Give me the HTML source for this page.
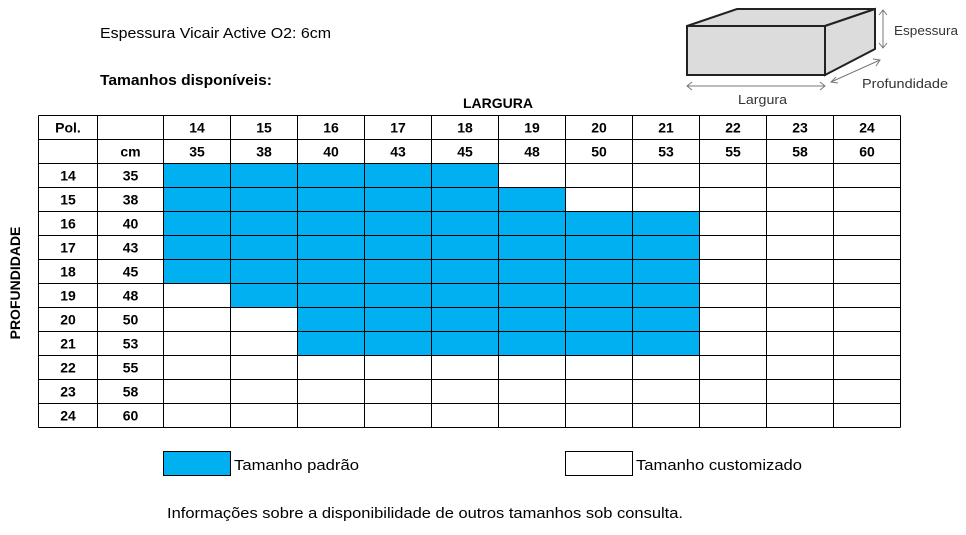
<!DOCTYPE html>
<html><head><meta charset="utf-8"><style>
body{margin:0;background:#fff;}
svg text{font-family:"Liberation Sans",sans-serif;}
</style></head><body>
<svg id="chart" width="966" height="530" xmlns="http://www.w3.org/2000/svg">
<text x="100" y="38" font-size="14.5" textLength="231" lengthAdjust="spacingAndGlyphs">Espessura Vicair Active O2: 6cm</text>
<text x="100" y="85" font-size="14.5" font-weight="bold" textLength="172" lengthAdjust="spacingAndGlyphs">Tamanhos disponíveis:</text>
<g stroke="#222" stroke-width="2" fill="#dcdcdc">
<polygon points="687,26 737,9 875,9 825,26"/>
<polygon points="825,26 875,9 875,49 825,75"/>
<rect x="687" y="26" width="138" height="49"/>
</g>
<g stroke="#777" stroke-width="1" fill="none">
<line x1="687" y1="86" x2="825" y2="86"/><polyline points="692,82 687,86 692,90"/><polyline points="820,82 825,86 820,90"/>
<line x1="883" y1="10" x2="883" y2="48"/><polyline points="879,15 883,10 887,15"/><polyline points="879,43 883,48 887,43"/>
<line x1="831" y1="82" x2="880" y2="60"/><polyline points="836,77 831,82 838,83"/><polyline points="873,59 880,60 876,66"/>
</g>
<text x="894" y="35" font-size="13" fill="#333" textLength="64" lengthAdjust="spacingAndGlyphs">Espessura</text>
<text x="862" y="88" font-size="13" fill="#333" textLength="86" lengthAdjust="spacingAndGlyphs">Profundidade</text>
<text x="738" y="104" font-size="13" fill="#333" textLength="49" lengthAdjust="spacingAndGlyphs">Largura</text>
<text x="498" y="108" font-size="14" font-weight="bold" text-anchor="middle">LARGURA</text>
<text x="0" y="0" font-size="14" font-weight="bold" text-anchor="middle" transform="translate(20,283) rotate(-90)">PROFUNDIDADE</text>
<g id="cells"></g>
<g id="grid"></g>
<g id="labels"></g>
<rect x="163.5" y="451.5" width="67" height="24" fill="#00B0F0" stroke="#000"/>
<text x="234" y="470" font-size="14.5" textLength="125" lengthAdjust="spacingAndGlyphs">Tamanho padrão</text>
<rect x="565.5" y="451.5" width="67" height="24" fill="#fff" stroke="#000"/>
<text x="636" y="470" font-size="14.5" textLength="166" lengthAdjust="spacingAndGlyphs">Tamanho customizado</text>
<text x="167" y="518" font-size="14.5" textLength="516" lengthAdjust="spacingAndGlyphs">Informações sobre a disponibilidade de outros tamanhos sob consulta.</text>
</svg>
<script>
const widthInches=[14,15,16,17,18,19,20,21,22,23,24];
const widthCm=[35,38,40,43,45,48,50,53,55,58,60];
const depthInches=[14,15,16,17,18,19,20,21,22,23,24];
const depthCm=[35,38,40,43,45,48,50,53,55,58,60];
// standard range per depth row: [firstWidthInch, lastWidthInch] or null
const standardFrom=[14,14,14,14,14,15,16,16,null,null,null];
const standardTo=[18,19,21,21,21,21,21,21,null,null,null];

const NS="http://www.w3.org/2000/svg";
const X0=38.5, colW=[59,66], dataX=163.5, cw=67, Y0=115.5, rh=24;
const xCol=i=>dataX+i*cw;
const yRow=j=>Y0+(j+2)*rh;
function mk(tag,attrs,parent){const e=document.createElementNS(NS,tag);for(const k in attrs)e.setAttribute(k,attrs[k]);parent.appendChild(e);return e;}
const cells=document.getElementById('cells'),grid=document.getElementById('grid'),labels=document.getElementById('labels');
depthInches.forEach((d,j)=>{
  if(standardFrom[j]==null)return;
  const a=widthInches.indexOf(standardFrom[j]),b=widthInches.indexOf(standardTo[j]);
  const r=mk('rect',{x:xCol(a),y:yRow(j),width:(b-a+1)*cw,height:rh,fill:'#00B0F0'},cells);
  
  
});
const right=xCol(widthInches.length), bottom=yRow(depthInches.length);
const xs=[X0,X0+colW[0],dataX];
for(let i=1;i<=widthInches.length;i++)xs.push(xCol(i));
xs.forEach(x=>{const l=mk('line',{x1:x,y1:Y0,x2:x,y2:bottom,stroke:'#000','stroke-width':1},grid);});
for(let j=0;j<=depthInches.length+2;j++){const y=Y0+j*rh;const l=mk('line',{x1:X0,y1:y,x2:right,y2:y,stroke:'#000','stroke-width':1},grid);}
function txt(s,x,y,name){const t=mk('text',{x:x,y:y,'font-size':14,'font-weight':'bold','text-anchor':'middle'},labels);t.textContent=s;

}
txt('Pol.',X0+colW[0]/2,Y0+17,'pol-header');
txt('cm',X0+colW[0]+colW[1]/2,Y0+rh+17,'cm-header');
widthInches.forEach((w,i)=>{txt(w,xCol(i)+cw/2,Y0+17,'width-inch-label');txt(widthCm[i],xCol(i)+cw/2,Y0+rh+17,'width-cm-label');});
depthInches.forEach((d,j)=>{txt(d,X0+colW[0]/2,yRow(j)+17,'depth-inch-label');txt(depthCm[j],X0+colW[0]+colW[1]/2,yRow(j)+17,'depth-cm-label');});
</script>
</body></html>
